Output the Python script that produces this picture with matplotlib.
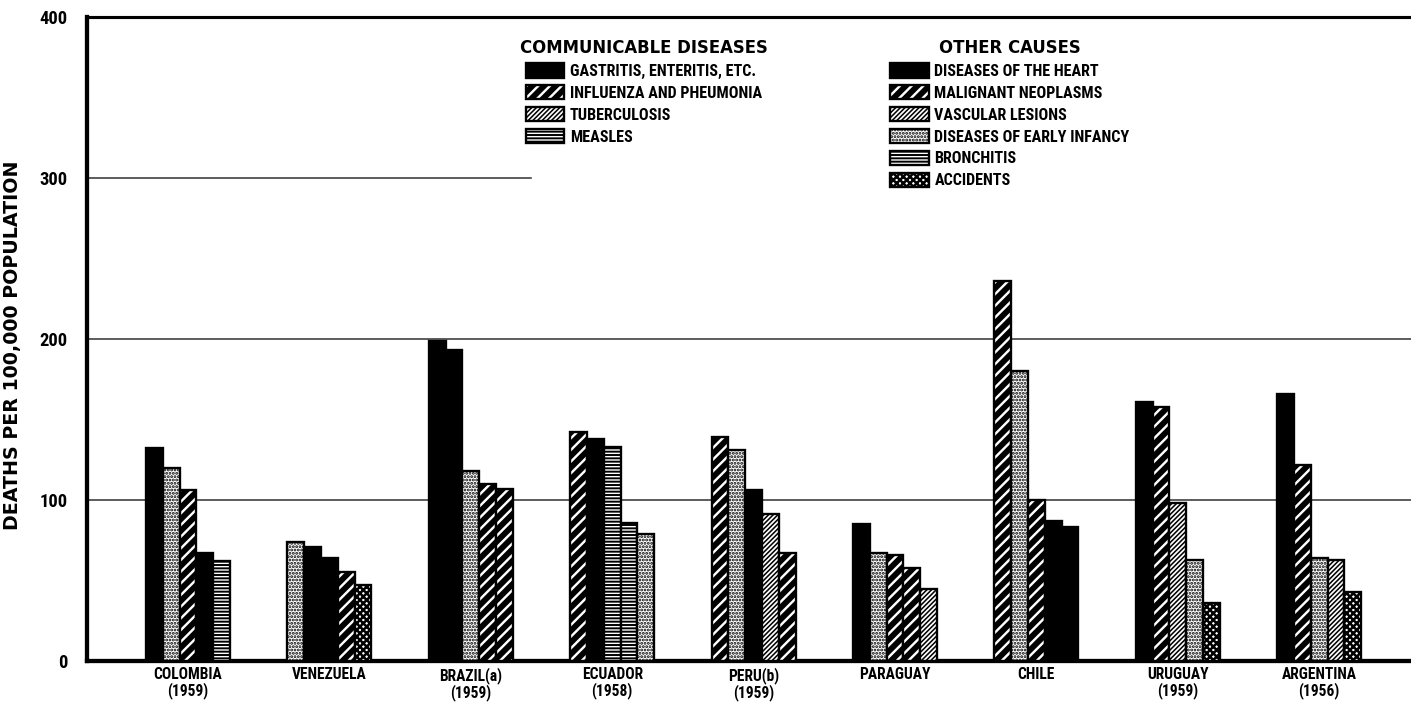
#Import necessary libraries
import numpy as np
import matplotlib
import matplotlib.pyplot as plt
from matplotlib.patches import Patch
from matplotlib import font_manager

# ---------------- data ----------------
countries = ['COLOMBIA\n(1959)', 'VENEZUELA', 'BRAZIL(a)\n(1959)', 'ECUADOR\n(1958)',
             'PERU(b)\n(1959)', 'PARAGUAY', 'CHILE', 'URUGUAY\n(1959)', 'ARGENTINA\n(1956)']

# cause of each bar, in the order drawn inside each country group
causes = [
    ['gastritis', 'infancy', 'influenza', 'heart', 'measles'],        # Colombia
    ['infancy', 'gastritis', 'heart', 'influenza', 'accidents'],      # Venezuela
    ['gastritis', 'heart', 'infancy', 'influenza', 'neoplasms'],      # Brazil
    ['influenza', 'gastritis', 'bronchitis', 'measles', 'infancy'],   # Ecuador
    ['influenza', 'infancy', 'gastritis', 'tuberculosis', 'neoplasms'],  # Peru
    ['gastritis', 'infancy', 'influenza', 'neoplasms', 'tuberculosis'],  # Paraguay
    ['influenza', 'infancy', 'neoplasms', 'heart', 'gastritis'],      # Chile
    ['heart', 'neoplasms', 'vascular', 'infancy', 'accidents'],       # Uruguay
    ['heart', 'neoplasms', 'infancy', 'vascular', 'accidents'],       # Argentina
]
rates = [
    [132, 120, 106, 67, 62],
    [74, 71, 64, 55, 47],
    [199, 193, 118, 110, 107],
    [142, 138, 133, 86, 79],
    [139, 131, 106, 91, 67],
    [85, 67, 66, 58, 45],
    [236, 180, 100, 87, 83],
    [161, 158, 98, 63, 36],
    [166, 122, 64, 63, 43],
]

communicable = ['gastritis', 'influenza', 'tuberculosis', 'measles']
communicable_labels = ['GASTRITIS, ENTERITIS, ETC.', 'INFLUENZA AND PHEUMONIA',
                       'TUBERCULOSIS', 'MEASLES']
other = ['heart', 'neoplasms', 'vascular', 'infancy', 'bronchitis', 'accidents']
other_labels = ['DISEASES OF THE HEART', 'MALIGNANT NEOPLASMS', 'VASCULAR LESIONS',
                'DISEASES OF EARLY INFANCY', 'BRONCHITIS', 'ACCIDENTS']

# ---------------- styles ----------------
# (facecolor, hatch, hatch linewidth)
patterns = {
    'solid': ('black', None, 1.0),
    'wide': ('white', '////', 3.0),
    'fine': ('white', '//////////', 0.8),
    'dots': ('white', '.......', 1.0),
    'lines': ('white', '-------', 1.0),
    'dense': ('white', 'xxxxxxx', 1.3),
}
cause_pattern = {
    'gastritis': 'solid', 'heart': 'solid',
    'influenza': 'wide', 'neoplasms': 'wide',
    'tuberculosis': 'fine', 'vascular': 'fine',
    'infancy': 'dots', 'measles': 'lines', 'bronchitis': 'lines',
    'accidents': 'dense',
}


def pick_font(names):
    have = {f.name for f in font_manager.fontManager.ttflist}
    for n in names:
        if n in have:
            return n
    return 'DejaVu Sans'


narrow = pick_font(['Liberation Sans Narrow', 'Roboto Condensed', 'DejaVu Sans'])
wide = pick_font(['DejaVu Sans'])


def style_patch(p, cause):
    fc, hatch, hlw = patterns[cause_pattern[cause]]
    p.set_facecolor(fc)
    p.set_edgecolor('black')
    p.set_linewidth(1.2)
    if hatch:
        p.set_hatch(hatch)
        if hasattr(p, 'set_hatch_linewidth'):
            p.set_hatch_linewidth(hlw)


# ---------------- plot ----------------
fig = plt.figure(figsize=(1411 / 140, 705 / 140), dpi=140)
ax = fig.add_axes([87 / 1411, 1 - 661 / 705, 1 - 87 / 1411, (661 - 17) / 705])

bar_w = 0.119
for gi, (cs, vals) in enumerate(zip(causes, rates)):
    xs = gi + (np.arange(len(vals)) - 2) * bar_w
    bars = ax.bar(xs, vals, width=bar_w, zorder=3)
    for b, c in zip(bars, cs):
        style_patch(b, c)

ax.set_xlim(-0.714, 8.649)
ax.set_ylim(0, 400)

# reference lines
ax.axhline(100, color='#333333', lw=0.8, zorder=1)
ax.axhline(200, color='#333333', lw=0.8, zorder=1)
ax.axhline(300, xmax=0.335, color='#333333', lw=0.8, zorder=1)

for s in ['left', 'bottom']:
    ax.spines[s].set_linewidth(2.2)
ax.spines['top'].set_linewidth(1.6)
ax.spines['right'].set_visible(False)

ax.set_yticks([0, 100, 200, 300, 400])
ax.set_yticklabels(['0', '100', '200', '300', '400'], fontsize=9.5,
                   fontweight='bold', family=narrow)
ax.tick_params(axis='y', length=0, pad=10)
ax.set_xticks(range(len(countries)))
ax.set_xticklabels(countries, fontsize=8, fontweight='bold', family=narrow,
                   linespacing=1.05)
ax.tick_params(axis='x', length=0, pad=3)
ax.set_ylabel('DEATHS PER 100,000 POPULATION', fontsize=9.8, family=wide,
              fontweight='bold')
# put the label at about x = 22 px, centred on the 155..535 px span
ax.yaxis.set_label_coords(-65 / 1324, (661 - 345) / 644)


# ---------------- legends ----------------
def make_handles(keys):
    hs = []
    for k in keys:
        h = Patch()
        style_patch(h, k)
        hs.append(h)
    return hs


leg_kw = dict(frameon=False, fontsize=8.3, handlelength=2.4, handleheight=1.0,
              handletextpad=0.35, labelspacing=0.38, borderpad=0, borderaxespad=0,
              title_fontproperties={'family': wide, 'size': 8.5, 'weight': 'bold'})


def finish_legend(leg, keys):
    for t in leg.get_texts():
        t.set_fontweight('bold')
        t.set_family(narrow)
    # legend copies of the patches lose the hatch width, so set it again
    for h, k in zip(leg.legend_handles, keys):
        style_patch(h, k)


leg1 = ax.legend(make_handles(communicable), communicable_labels,
                 title='COMMUNICABLE DISEASES', loc='upper left',
                 bbox_to_anchor=(520 / 1411, 1 - 39 / 705),
                 bbox_transform=fig.transFigure, **leg_kw)
finish_legend(leg1, communicable)
ax.add_artist(leg1)
leg2 = ax.legend(make_handles(other), other_labels,
                 title='OTHER CAUSES', loc='upper left',
                 bbox_to_anchor=(890 / 1411, 1 - 39 / 705),
                 bbox_transform=fig.transFigure, **leg_kw)
finish_legend(leg2, other)

fig.savefig('out.png', dpi=140)
